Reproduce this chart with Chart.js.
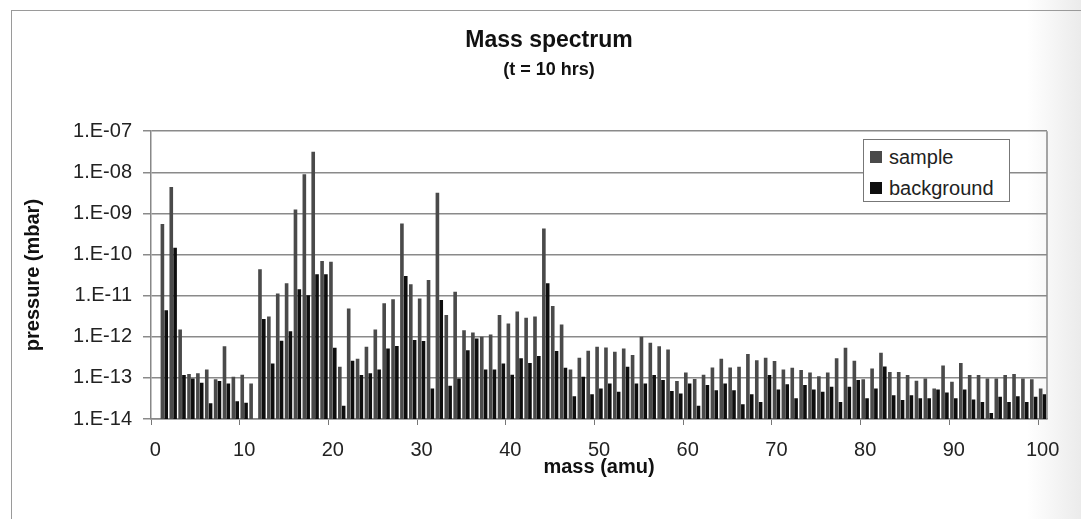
<!DOCTYPE html>
<html>
<head>
<meta charset="utf-8">
<script src="https://cdn.jsdelivr.net/npm/chart.js@4.4.0/dist/chart.umd.min.js"></script>
<style>
  html, body { margin: 0; padding: 0; }
  body { width: 1081px; height: 519px; overflow: hidden;
         background: linear-gradient(to right, #fff 0%, #fff 95%, #ebebeb 100%); }
  #wrap { position: relative; width: 1081px; height: 519px; }
  #frame { position: absolute; left: 11px; top: 10px; width: 1100px; height: 540px;
           border-left: 1px solid #9a9a9a; border-top: 1px solid #9a9a9a; }
  #myChart { position: absolute; left: 0; top: 0; }
  #legend { position: absolute; left: 863px; top: 139px; width: 145px; height: 61px;
            border: 1px solid #777; background: #fff;
            font: 20px "Liberation Sans", Arial, sans-serif; color: #222; }
  .item { position: absolute; left: 0; height: 24px; line-height: 24px; white-space: nowrap; }
  .sw { position: absolute; left: 6px; top: 6px; width: 12px; height: 12px; }
  .txt { position: absolute; left: 25px; top: 0; }
</style>
</head>
<body>
<div id="wrap">
  <div id="frame"></div>
  <canvas id="myChart" width="1081" height="519"></canvas>
  <div id="legend"></div>
</div>
<script>
// mass numbers (amu) on the category axis
const masses = [
  0, 1, 2, 3, 4, 5, 6, 7, 8, 9, 10, 11, 12, 13, 14, 15, 16, 17, 18, 19, 20,
  21, 22, 23, 24, 25, 26, 27, 28, 29, 30, 31, 32, 33, 34, 35, 36, 37, 38, 39, 40,
  41, 42, 43, 44, 45, 46, 47, 48, 49, 50, 51, 52, 53, 54, 55, 56, 57, 58, 59, 60,
  61, 62, 63, 64, 65, 66, 67, 68, 69, 70, 71, 72, 73, 74, 75, 76, 77, 78, 79, 80,
  81, 82, 83, 84, 85, 86, 87, 88, 89, 90, 91, 92, 93, 94, 95, 96, 97, 98, 99, 100
];

// pressure (mbar), index = mass
const sample = [null,
  5.5e-10, 4.4e-9, 1.5e-12, 1.24e-13, 1.29e-13, 1.6e-13, 9.2e-14, 5.9e-13, 1.07e-13, 1.2e-13,
  7.3e-14, 4.4e-11, 3.1e-12, 1.13e-11, 2.0e-11, 1.25e-9, 9.0e-9, 3.15e-8, 7.0e-11, 6.7e-11,
  1.87e-13, 4.9e-12, 2.9e-13, 5.7e-13, 1.5e-12, 6.5e-12, 8.2e-12, 5.7e-10, 1.9e-11, 8.5e-12,
  2.4e-11, 3.2e-9, 3.4e-12, 1.24e-11, 1.45e-12, 1.27e-12, 1.0e-12, 1.14e-12, 3.4e-12, 2.1e-12,
  4.1e-12, 2.9e-12, 3.1e-12, 4.3e-10, 5.6e-12, 2.0e-12, 1.6e-13, 3.1e-13, 4.6e-13, 5.7e-13,
  5.5e-13, 4.3e-13, 5.2e-13, 3.6e-13, 1.0e-12, 7.2e-13, 5.9e-13, 4.9e-13, 8.4e-14, 1.36e-13,
  9.4e-14, 1.2e-13, 1.8e-13, 2.9e-13, 1.8e-13, 1.87e-13, 3.8e-13, 2.7e-13, 3.1e-13, 2.56e-13,
  1.6e-13, 1.76e-13, 1.55e-13, 1.36e-13, 1.1e-13, 1.36e-13, 3.0e-13, 5.4e-13, 2.6e-13, 9.2e-14,
  1.7e-13, 4.1e-13, 1.4e-13, 1.4e-13, 1.17e-13, 8.5e-14, 9.7e-14, 5.5e-14, 2.0e-13, 8.1e-14,
  2.3e-13, 1.17e-13, 1.17e-13, 9.7e-14, 9.7e-14, 1.17e-13, 1.24e-13, 9.7e-14, 9.2e-14, 5.5e-14
];

const background = [null,
  4.4e-12, 1.46e-10, 1.17e-13, 9.7e-14, 7.6e-14, 2.4e-14, 8.4e-14, 7.3e-14, 2.7e-14, 2.5e-14,
  1.0e-14, 2.7e-12, 2.25e-13, 8.0e-13, 1.37e-12, 1.44e-11, 1.03e-11, 3.3e-11, 3.3e-11, 5.4e-13,
  2.1e-14, 2.6e-13, 1.17e-13, 1.29e-13, 1.6e-13, 5.2e-13, 6.0e-13, 3.0e-11, 8.3e-13, 7.9e-13,
  5.5e-14, 7.8e-12, 6.4e-14, 9.7e-14, 4.7e-13, 9.1e-13, 1.6e-13, 1.6e-13, 2.25e-13, 1.2e-13,
  3.0e-13, 2.3e-13, 3.4e-13, 2.0e-11, 4.5e-13, 1.76e-13, 3.6e-14, 1.07e-13, 4.0e-14, 5.5e-14,
  7.3e-14, 4.6e-14, 1.87e-13, 7.3e-14, 7.3e-14, 1.17e-13, 8.9e-14, 4.8e-14, 4.2e-14, 7.3e-14,
  2.1e-14, 6.7e-14, 5.0e-14, 7.3e-14, 5.0e-14, 2.3e-14, 4.0e-14, 2.6e-14, 1.17e-13, 5.2e-14,
  7.0e-14, 3.2e-14, 6.7e-14, 5.2e-14, 4.6e-14, 6.1e-14, 2.6e-14, 6.1e-14, 8.9e-14, 3.2e-14,
  5.5e-14, 1.9e-13, 3.8e-14, 2.9e-14, 3.8e-14, 3.2e-14, 3.2e-14, 5.2e-14, 4.4e-14, 3.2e-14,
  5.2e-14, 3.0e-14, 2.6e-14, 1.4e-14, 3.5e-14, 2.6e-14, 3.6e-14, 2.6e-14, 3.5e-14, 4.0e-14
];

const yTickValues = [1e-14, 1e-13, 1e-12, 1e-11, 1e-10, 1e-9, 1e-8, 1e-7];
const yTickLabels = ['1.E-14', '1.E-13', '1.E-12', '1.E-11', '1.E-10', '1.E-09', '1.E-08', '1.E-07'];

const FONT = '"Liberation Sans", Arial, sans-serif';
Chart.defaults.font.family = FONT;
Chart.defaults.color = '#222';

// right edge of the plot box
const plotBorder = {
  id: 'plotBorder',
  afterDatasetsDraw(chart) {
    const a = chart.chartArea, c = chart.ctx;
    c.save();
    c.strokeStyle = '#888';
    c.lineWidth = 1.5;
    c.beginPath();
    c.moveTo(a.right, a.top);
    c.lineTo(a.right, a.bottom);
    c.stroke();
    c.restore();
  }
};

var ctx = document.getElementById("myChart").getContext("2d");
var myChart = new Chart(ctx, {
  type: 'bar',
  data: {
    labels: masses,
    datasets: [{
      label: 'sample',
      data: sample,
      backgroundColor: '#4a4a4a',
      categoryPercentage: 0.86,
      barPercentage: 0.95
    }, {
      label: 'background',
      data: background,
      backgroundColor: '#0e0e0e',
      categoryPercentage: 0.86,
      barPercentage: 0.95
    }]
  },
  options: {
    responsive: false,
    animation: false,
    layout: { padding: { left: 51, right: 34, top: 10, bottom: 30 } },
    plugins: {
      legend: { display: false },
      tooltip: { enabled: false },
      title: {
        display: true,
        text: 'Mass spectrum',
        color: '#111',
        font: { size: 23, weight: 'bold' },
        padding: { top: 17, bottom: 5 }
      },
      subtitle: {
        display: true,
        text: '(t = 10 hrs)',
        color: '#111',
        font: { size: 18, weight: 'bold' },
        padding: { top: 0, bottom: 50 }
      }
    },
    scales: {
      x: {
        type: 'category',
        grid: {
          offset: true,
          drawOnChartArea: false,
          tickLength: 6,
          color: (c) => (c.index % 10 === 0 ? '#777' : 'rgba(0,0,0,0)')
        },
        border: { display: true, color: '#888', width: 1.5 },
        ticks: {
          autoSkip: false,
          maxRotation: 0,
          padding: 13,
          font: { size: 20 },
          callback: (v, i) => (masses[i] % 10 === 0 ? String(masses[i]) : '')
        },
        title: {
          display: true,
          text: 'mass (amu)',
          color: '#111',
          font: { size: 20, weight: 'bold' },
          padding: { top: 0, bottom: 10 }
        },
        afterFit: (scale) => { scale.height = 70; }
      },
      y: {
        type: 'logarithmic',
        min: 1e-14,
        max: 1e-7,
        grid: { color: '#8a8a8a', lineWidth: 1.5, tickLength: 8 },
        border: { display: true, color: '#888', width: 1.5 },
        ticks: {
          padding: 11,
          font: { size: 20 },
          callback: (v, i) => yTickLabels[i]
        },
        afterBuildTicks: (scale) => {
          scale.ticks = yTickValues.map(v => ({ value: v }));
        },
        title: {
          display: true,
          text: 'pressure (mbar)',
          color: '#111',
          font: { size: 20, weight: 'bold' },
          padding: { top: -30, bottom: 0 }
        },
        afterFit: (scale) => { scale.width = 100; }
      }
    }
  },
  plugins: [plotBorder]
});

// legend box inside the plot, built from the datasets
const legendEl = document.getElementById('legend');
myChart.data.datasets.forEach((ds, i) => {
  const item = document.createElement('div');
  item.className = 'item';
  item.style.top = (5 + i * 31) + 'px';
  item.style.width = '100%';
  const sw = document.createElement('span');
  sw.className = 'sw';
  sw.style.background = ds.backgroundColor;
  const txt = document.createElement('span');
  txt.className = 'txt';
  txt.textContent = ds.label;
  item.appendChild(sw);
  item.appendChild(txt);
  legendEl.appendChild(item);
});
</script>
</body>
</html>
